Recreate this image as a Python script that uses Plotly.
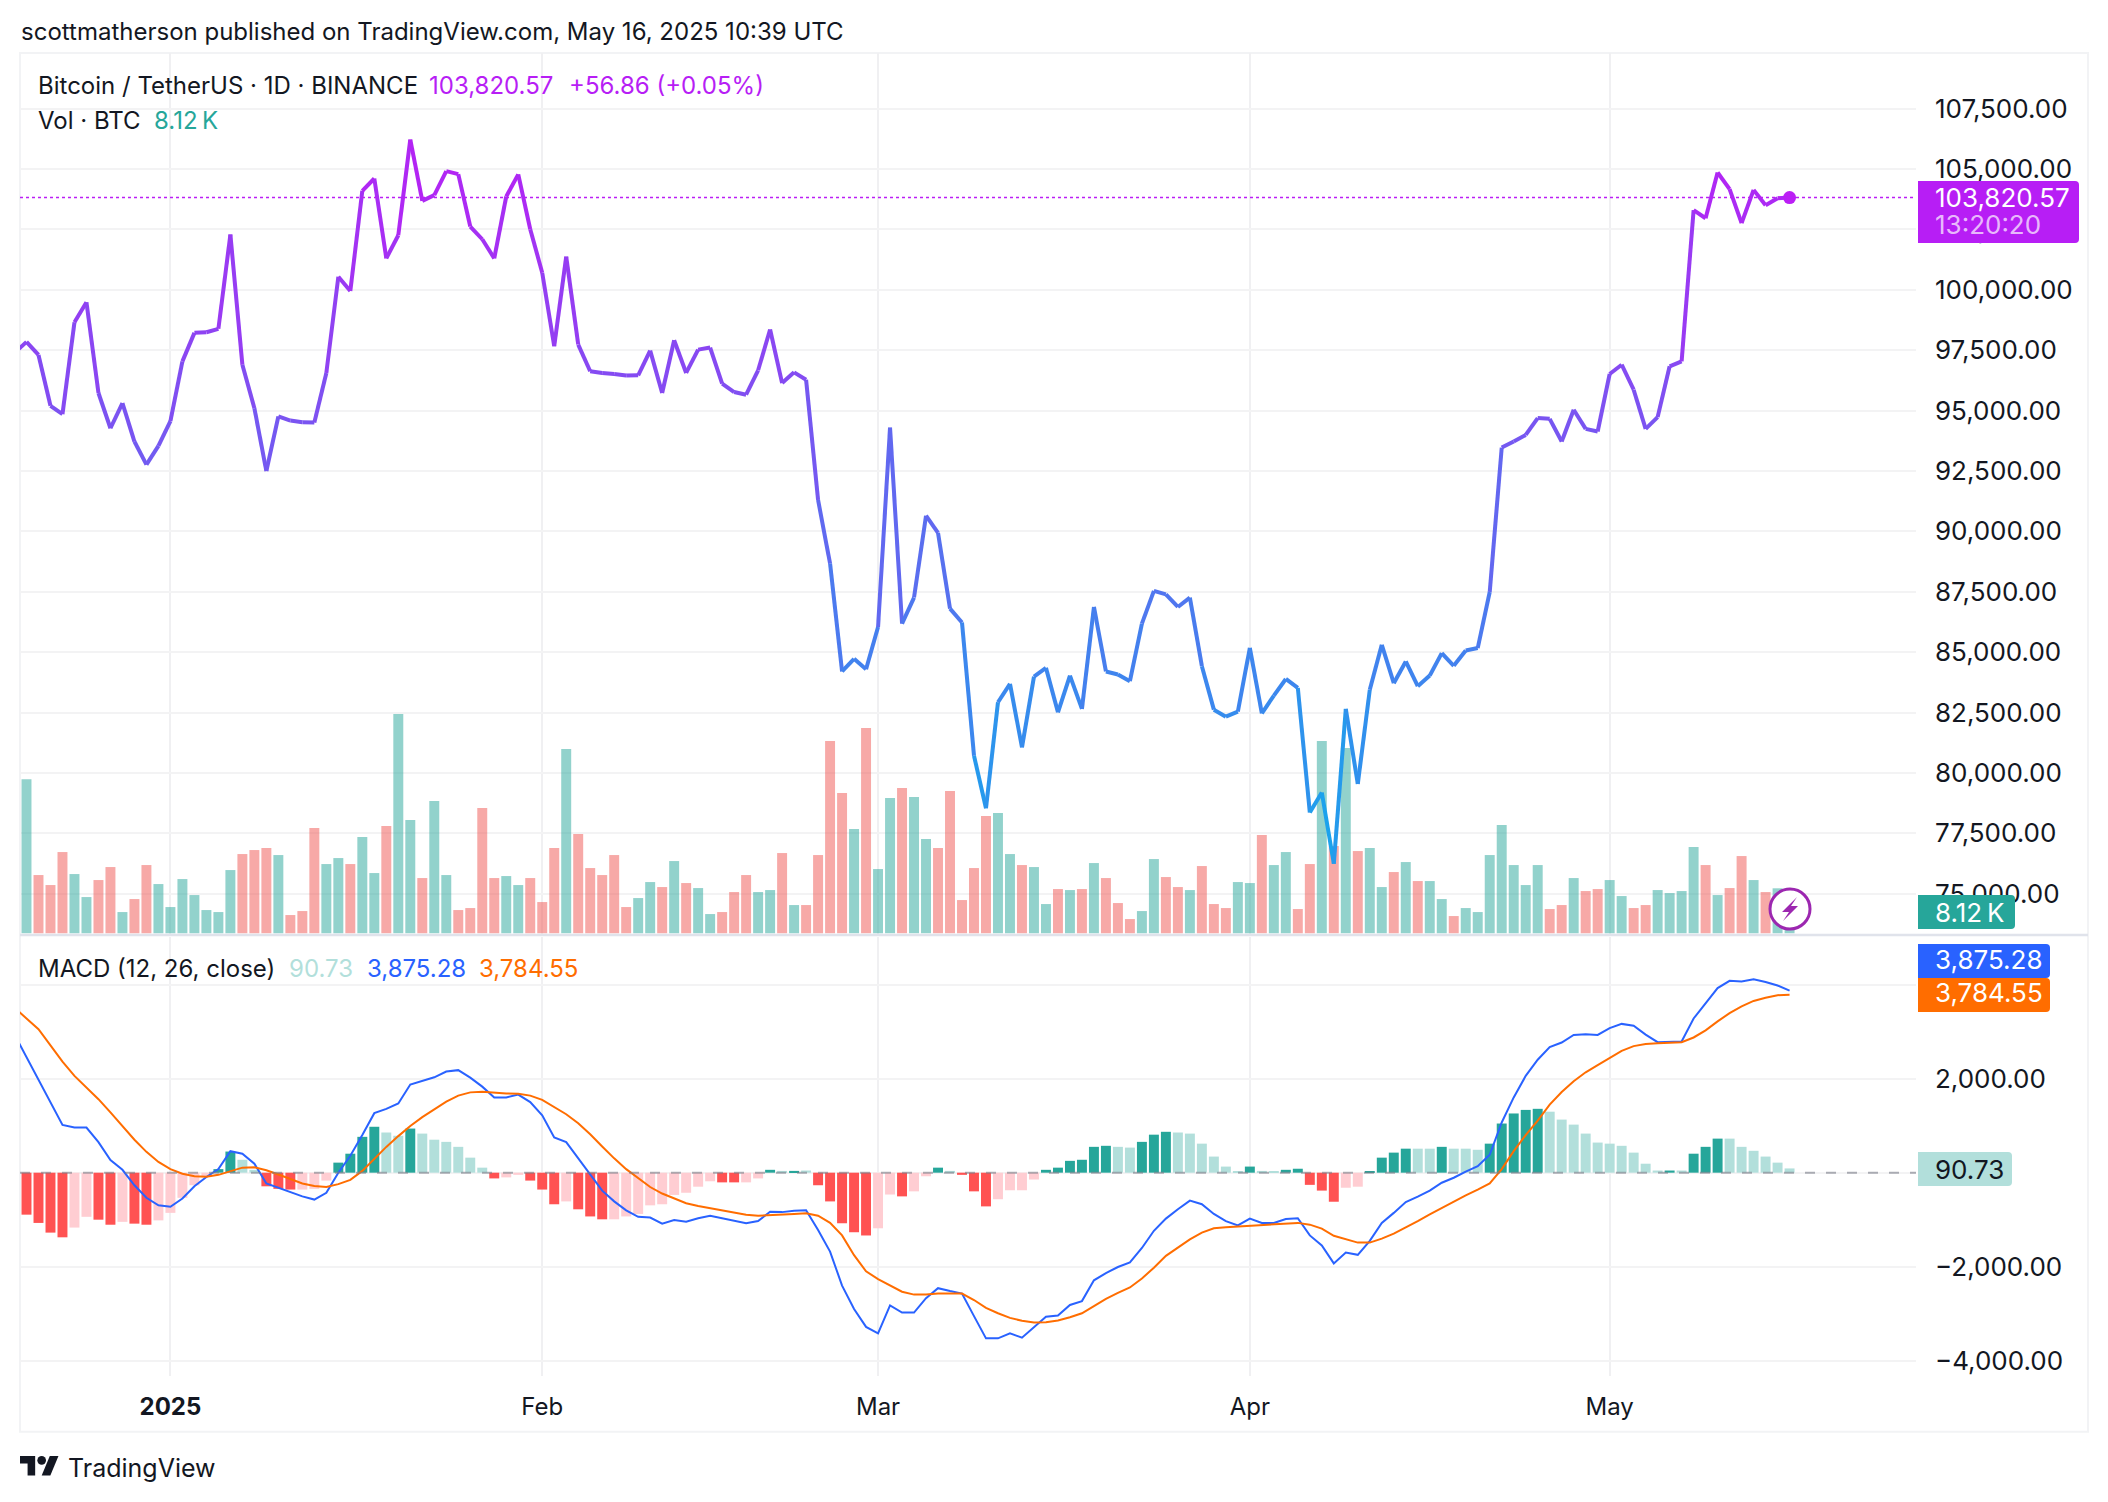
import numpy as np
import pandas as pd
import plotly.graph_objects as go

# the page keeps its 8px body margin, so the figure is 8px smaller and all positions are shifted by it
PAGE_MARGIN = 8
W, H = 2108 - PAGE_MARGIN, 1502 - PAGE_MARGIN

# daily bars, the first close sits just outside the left edge of the chart
dates = pd.date_range("2024-12-19", "2025-05-16")

close = [97390, 97845, 97305, 95200, 94855, 98660, 99490, 95730, 94270, 95310, 93720, 92765, 93540, 94565, 97040, 98220,
         98245, 98385, 102290, 96900, 95100, 92500, 94760, 94590, 94520, 94510, 96560, 100545, 99950, 104100, 104610,
         101305, 102260, 106220, 103685, 103920, 104915, 104790, 102620, 102095, 101305, 103865, 104780, 102510, 100710,
         97665, 101375, 97735, 96630, 96560, 96515, 96450, 96460, 97485, 95730, 97915, 96560, 97525, 97610, 96115, 95770,
         95660, 96670, 98360, 96140, 96585, 96280, 91300, 88670, 84200, 84725, 84295, 86040, 94300, 86180, 87260, 90650,
         89940, 86800, 86230, 80710, 78540, 82925, 83685, 81060, 83990, 84350, 82510, 84030, 82650, 86870, 84200, 84075,
         83800, 86180, 87535, 87395, 86870, 87260, 84420, 82620, 82330, 82540, 85180, 82470, 83200, 83890, 83520, 78360,
         79190, 76240, 82650, 79540, 83440, 85305, 83715, 84615, 83590, 84030, 84960, 84435, 85070, 85170, 87490, 93470,
         93720, 93995, 94690, 94660, 93720, 95035, 94245, 94135, 96515, 96900, 95865, 94245, 94730, 96835, 97040, 103300,
         102965, 104860, 104170, 102760, 104140, 103505, 103795, 103820.57]

volume = [61.6, 23.3, 19.3, 32.5, 23.7, 14.5, 21.3, 26.5, 8.5, 13.7, 27.3, 19.7, 10.5, 21.7, 15.3, 9.3, 8.5, 25.3, 31.7, 33.3,
          34.1, 31.3, 7.3, 8.9, 42.1, 27.7, 30.1, 27.7, 38.5, 24.1, 42.9, 87.7, 45.3, 22.1, 52.9, 23.3, 9.3, 10.1, 50.1, 22.1,
          22.9, 19.3, 22.1, 12.5, 34.1, 73.7, 39.7, 26.1, 23.3, 31.3, 10.5, 14.1, 20.5, 18.5, 28.9, 20.1, 18.1, 7.7, 8.5, 16.5,
          23.3, 16.5, 17.3, 32.1, 11.3, 11.3, 31.3, 76.9, 56.1, 41.7, 82.1, 25.7, 54.1, 58.1, 54.5, 37.7, 34.1, 56.9, 13.3, 26.1,
          46.9, 48.1, 31.7, 27.3, 26.5, 11.7, 17.7, 17.3, 17.7, 28.1, 22.1, 12.1, 5.7, 8.9, 29.7, 22.5, 18.5, 17.3, 26.9, 11.7,
          10.1, 20.5, 20.1, 39.3, 27.3, 32.5, 9.7, 27.7, 76.9, 34.9, 74.1, 32.9, 34.1, 18.5, 24.5, 28.5, 20.9, 20.9, 13.7, 6.9,
          10.1, 8.5, 31.3, 43.3, 27.3, 19.3, 27.3, 9.7, 11.3, 22.1, 16.9, 17.7, 21.3, 14.9, 10.1, 11.3, 17.3, 16.1, 16.9, 34.5,
          27.3, 15.3, 18.1, 30.9, 21.3, 16.5, 18.0, 8.12]
volume_side = ("GRRRGGRRGR" "RGGGGGGGRR" "RGRRRGGRGG" "RGGRGGRRRR" "GGRRRGRRRR" "RGGRGRGGRR" "RGGRGRRRRG"
               "RGGRGGRRRR" "RGGRGGRGRG" "RRRGGRRGRR" "RGGRGGRRGR" "GRGGRGRGGR" "GGGGGGGRRG" "RRGGRRGGGG" "RGRRGRGG")

macd = [2938, 2457, 1984, 1488, 1015, 961, 961, 649, 267, 61, -267, -534, -694, -725, -549, -290, -92, 76, 458, 404, 191,
        -229, -320, -427, -504, -572, -427, 0, 359, 801, 1267, 1358, 1473, 1877, 1961, 2030, 2152, 2182, 2022, 1831, 1602,
        1602, 1663, 1503, 1221, 748, 649, 305, -61, -382, -610, -801, -938, -954, -1083, -1007, -1045, -969, -916, -969,
        -1030, -1076, -1030, -832, -839, -809, -801, -1221, -1679, -2403, -2899, -3281, -3418, -2823, -2976, -2976, -2671,
        -2457, -2518, -2571, -3052, -3525, -3525, -3418, -3510, -3296, -3067, -3037, -2815, -2732, -2289, -2136, -2007,
        -1908, -1602, -1236, -977, -778, -595, -671, -877, -1030, -1122, -977, -1068, -1068, -984, -969, -1335, -1549, -1930,
        -1701, -1747, -1450, -1068, -855, -626, -511, -382, -214, -107, 23, 137, 382, 1068, 1602, 2060, 2403, 2671, 2770,
        2930, 2945, 2930, 3075, 3166, 3128, 2938, 2777, 2793, 2793, 3281, 3601, 3929, 4082, 4067, 4113, 4059, 3983, 3875.28]

signal = [3510, 3281, 3052, 2709, 2365, 2060, 1816, 1564, 1282, 992, 702, 443, 229, 76, -23, -76, -84, -46, 38, 107, 114, 53,
          -38, -137, -229, -282, -305, -244, -153, 38, 305, 549, 778, 992, 1183, 1351, 1511, 1640, 1709, 1724, 1701, 1686,
          1679, 1640, 1549, 1396, 1244, 1053, 816, 557, 305, 76, -114, -305, -443, -549, -649, -710, -755, -801, -855, -893,
          -916, -908, -893, -877, -862, -916, -1068, -1335, -1755, -2098, -2266, -2403, -2533, -2594, -2594, -2571, -2564,
          -2571, -2709, -2877, -2991, -3090, -3151, -3189, -3182, -3144, -3075, -2991, -2838, -2686, -2556, -2442, -2251,
          -2022, -1770, -1587, -1419, -1274, -1183, -1160, -1145, -1114, -1106, -1099, -1083, -1068, -1106, -1190, -1343,
          -1419, -1488, -1488, -1404, -1297, -1167, -1030, -885, -748, -610, -481, -359, -229, 76, 458, 801, 1106, 1450,
          1717, 1946, 2136, 2289, 2442, 2594, 2693, 2739, 2754, 2762, 2777, 2877, 3029, 3220, 3395, 3540, 3655, 3723, 3777,
          3784.55]

histogram = [-893, -1069, -1275, -1375, -1168, -939, -1000, -1107, -1046, -1084, -1107, -1015, -855, -535, -267, -92, 76, 450,
             275, 60, -290, -344, -359, -359, -344, -168, 214, 404, 763, 977, 855, 786, 939, 832, 702, 656, 550, 320, 107,
             -122, -100, -46, -168, -359, -672, -611, -779, -931, -992, -992, -931, -878, -695, -672, -473, -427, -298, -183,
             -206, -206, -206, -122, 61, 38, 38, 46, -267, -611, -1076, -1267, -1336, -1183, -465, -504, -397, -76, 107, 38,
             -46, -397, -717, -565, -374, -374, -145, 61, 107, 252, 275, 550, 572, 550, 534, 656, 809, 870, 855, 832, 618, 343,
             130, 23, 130, 38, 15, 61, 84, -259, -381, -618, -320, -298, 23, 320, 427, 511, 511, 511, 550, 511, 511, 488, 618,
             1046, 1260, 1336, 1359, 1298, 1130, 1023, 832, 641, 618, 572, 427, 191, 46, 46, 46, 404, 550, 725, 725, 550, 466,
             343, 214, 90.73]
histogram_shade = ("RRRRrrRRrR" "RrrrrrGGgg" "RRRrrrGGGG" "ggGggggggR" "rrRRRrRRRr" "rrrrrrrrRR" "rrGgGgRRRR" "RrrRrrGgRR"
                   "RrrrrG" "GGGG" "GggGGGgggg" "ggGggGGRRR" "rrGGGGggGg" "ggGGGGGggg" "gggggggGgG" "GGgggggg")

price_ticks = [75000 + 2500 * i for i in range(14)]
macd_ticks = [-4000, -2000, 0, 2000, 4000]
month_ticks = ["2025-01-01", "2025-02-01", "2025-03-01", "2025-04-01", "2025-05-01"]
month_labels = ["<b>2025</b>", "Feb", "Mar", "Apr", "May"]

assert len(dates) == len(close) == len(macd) == len(signal)
assert len(volume) == len(volume_side) == len(histogram) == len(histogram_shade) == len(dates) - 1

FONT = "Inter"
INK = "#131722"
GRID = "#f3f3f4"
TOP_COLOR = np.array([187, 31, 245])
LOW_COLOR = np.array([20, 169, 236])
VOL_COLORS = {"G": "rgba(38,166,154,0.5)", "R": "rgba(239,83,80,0.5)"}
HIST_COLORS = {"G": "#26A69A", "g": "#B2DFDB", "R": "#FF5252", "r": "#FFCDD2"}


def fx(x):
    return (x - PAGE_MARGIN) / W


def fy(y):
    return 1 - (y - PAGE_MARGIN) / H


fig = go.Figure()

# volume and macd histogram
fig.add_trace(go.Bar(x=dates[1:], y=volume, yaxis="y3", marker=dict(color=[VOL_COLORS[c] for c in volume_side], line_width=0)))
fig.add_trace(go.Bar(x=dates[1:], y=histogram, xaxis="x2", yaxis="y2",
                     marker=dict(color=[HIST_COLORS[c] for c in histogram_shade], line_width=0)))

# price line, coloured by height from purple down to blue
hi, lo = max(close), min(close)
for i in range(len(close) - 1):
    t = (hi - (close[i] + close[i + 1]) / 2) / (hi - lo)
    r, g, b = (TOP_COLOR + (LOW_COLOR - TOP_COLOR) * t).astype(int)
    fig.add_trace(go.Scatter(x=dates[i:i + 2], y=close[i:i + 2], yaxis="y4", mode="lines",
                             line=dict(color=f"rgb({r},{g},{b})", width=4)))
fig.add_trace(go.Scatter(x=dates[-1:], y=close[-1:], yaxis="y4", mode="markers",
                         marker=dict(color="#BB1FF5", size=13)))

fig.add_trace(go.Scatter(x=dates, y=macd, xaxis="x2", yaxis="y2", mode="lines", line=dict(color="#2962FF", width=2)))
fig.add_trace(go.Scatter(x=dates, y=signal, xaxis="x2", yaxis="y2", mode="lines", line=dict(color="#FF6D00", width=2)))


def rule(x0, y0, x1, y1, color, width, dash="solid"):
    fig.add_shape(type="line", xref="paper", yref="paper", x0=fx(x0), y0=fy(y0), x1=fx(x1), y1=fy(y1),
                  line=dict(color=color, width=width, dash=dash))


def badge(x0, y0, x1, y1, color):
    # square on the left, small radius on the right
    r = 4
    path = (f"M {fx(x0)} {fy(y0)} L {fx(x1 - r)} {fy(y0)} Q {fx(x1)} {fy(y0)} {fx(x1)} {fy(y0 + r)} "
            f"L {fx(x1)} {fy(y1 - r)} Q {fx(x1)} {fy(y1)} {fx(x1 - r)} {fy(y1)} L {fx(x0)} {fy(y1)} Z")
    fig.add_shape(type="path", xref="paper", yref="paper", path=path, fillcolor=color, line_width=0)


def label(text, x, y, color=INK, size=24):
    fig.add_annotation(text=text, xref="paper", yref="paper", x=fx(x), y=fy(y), xanchor="left", yanchor="middle",
                       showarrow=False, borderpad=0, font=dict(family=FONT, size=size, color=color))


# frame and pane separator
fig.add_shape(type="rect", xref="paper", yref="paper", x0=fx(20), y0=fy(53), x1=fx(2088), y1=fy(1431.7),
              line=dict(color="#f2f3f5", width=2), layer="below")
rule(20, 935, 2088, 935, "#E0E3EB", 2.5)

# last price and macd zero lines
fig.add_shape(type="line", xref="paper", yref="y", x0=fx(20), x1=fx(1916), y0=close[-1], y1=close[-1],
              line=dict(color="#BB1FF5", width=1.5, dash="dot"))
fig.add_shape(type="line", xref="paper", yref="y2", x0=fx(20), x1=fx(1916), y0=0, y1=0,
              line=dict(color="rgba(120,123,134,0.6)", width=2, dash="10px,11px"))

# value badges on the axis
badge(1918, 181, 2079, 243, "#B71EF5")
badge(1918, 895, 2015, 929, "#26A69A")
badge(1918, 944, 2050, 978, "#2962FF")
badge(1918, 978, 2050, 1012, "#FF6D00")
badge(1918, 1152, 2012, 1186, "#B2DFDB")
label("103,820.57", 1934, 197, "white", 26)
label("13:20:20", 1934, 224, "rgba(255,255,255,0.7)", 26)
label("8.12\u202fK", 1934, 912, "white", 26)
label("3,875.28", 1934, 959.5, "white", 26)
label("3,784.55", 1934, 992.5, "white", 26)
label("90.73", 1934, 1169, INK, 26)

# headline and pane legends
label("scottmatherson published on TradingView.com, May 16, 2025 10:39 UTC", 20, 32)
label("Bitcoin / TetherUS · 1D · BINANCE", 37, 86)
label("103,820.57", 428, 86, "#B71EF5")
label("+56.86 (+0.05%)", 568, 86, "#B71EF5")
label("Vol · BTC", 37, 120)
label("8.12\u202fK", 153, 120, "#26A69A")
label("MACD (12, 26, close)", 37, 968)
label("90.73", 288, 968, "#B2DFDB")
label("3,875.28", 366, 968, "#2962FF")
label("3,784.55", 478, 968, "#FF6D00")

# lightning badge over the last volume bar
fig.add_shape(type="circle", xref="paper", yref="paper", x0=fx(1770), y0=fy(889), x1=fx(1810), y1=fy(929),
              fillcolor="white", line=dict(color="#9C27B0", width=3))
bolt = [(1797, 897), (1782, 912), (1789, 912), (1783, 921), (1798, 906), (1791, 906)]
fig.add_shape(type="path", xref="paper", yref="paper", line_width=0, fillcolor="#9C27B0",
              path="M " + " L ".join(f"{fx(x)} {fy(y)}" for x, y in bolt) + " Z")

# TradingView mark and name
S = 39 / 36
ox, oy = 20, 1451.7


def mark(pts):
    return "M " + " L ".join(f"{fx(ox + x * S)} {fy(oy + y * S)}" for x, y in pts) + " Z"


fig.add_shape(type="path", xref="paper", yref="paper", line_width=0, fillcolor=INK,
              path=mark([(14, 22), (7, 22), (7, 11), (0, 11), (0, 4), (14, 4)]))
fig.add_shape(type="path", xref="paper", yref="paper", line_width=0, fillcolor=INK,
              path=mark([(28, 22), (20, 22), (27.5, 4), (35.5, 4)]))
fig.add_shape(type="circle", xref="paper", yref="paper", line_width=0, fillcolor=INK,
              x0=fx(ox + 16 * S), x1=fx(ox + 24 * S), y0=fy(oy + 12 * S), y1=fy(oy + 4 * S))
label("TradingView", 67, 1468, INK, 25)

x_common = dict(type="date", range=["2024-12-19 11:00", "2025-05-26 13:00"], domain=[fx(20), fx(1916)], showgrid=True,
                gridcolor="#f0f0f2", gridwidth=1.5, zeroline=False, showline=False, ticks="", tickvals=month_ticks,
                ticktext=month_labels, tickfont=dict(family=FONT, size=24, color=INK))
y_common = dict(side="right", showgrid=True, gridcolor=GRID, gridwidth=2, zeroline=False, showline=False, ticks="",
                tickformat=",.2f", ticklabelstandoff=18, tickfont=dict(family=FONT, size=26, color=INK))
price_range = [73290, 109806]

fig.update_layout(
    width=W, height=H, margin=dict(l=0, r=0, t=0, b=0), paper_bgcolor="white", plot_bgcolor="white",
    showlegend=False, hovermode=False, barmode="overlay", bargap=0.17,
    xaxis=dict(x_common, showticklabels=False, anchor="y"),
    xaxis2=dict(x_common, anchor="y2", ticklabelstandoff=14),
    yaxis=dict(y_common, domain=[fy(935), fy(53)], range=price_range, tickvals=price_ticks, anchor="x"),
    yaxis2=dict(y_common, domain=[fy(1376), fy(937)], range=[-4326, 5015], tickvals=macd_ticks, anchor="x2"),
    yaxis3=dict(overlaying="y", range=[-0.68, 352.1], visible=False),
    yaxis4=dict(overlaying="y", range=price_range, visible=False),
)

fig.write_html("out.html")
